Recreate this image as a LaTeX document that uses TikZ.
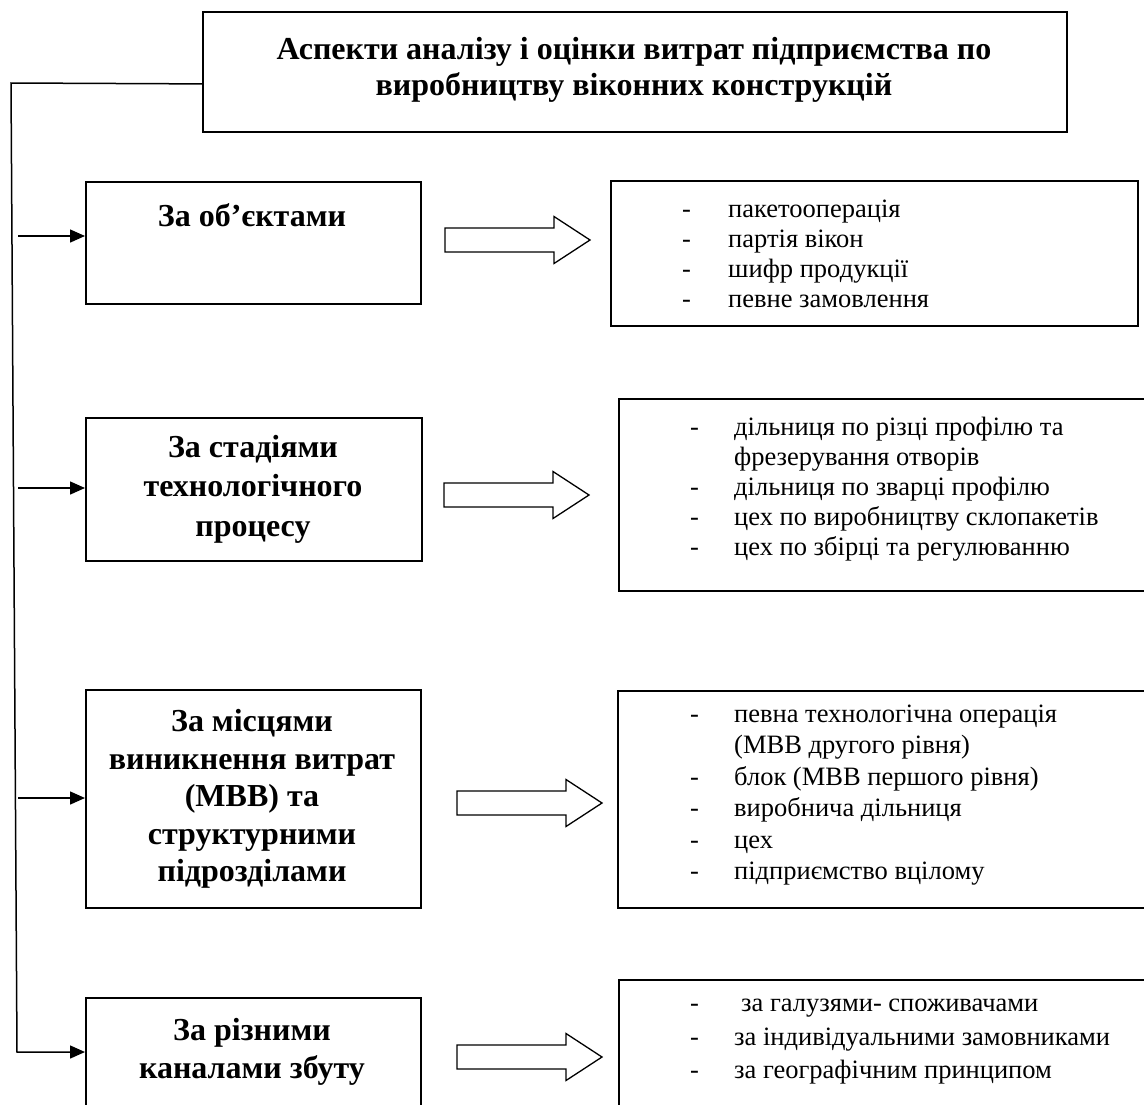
\documentclass[tikz,border=0pt]{standalone}
\usepackage{fontspec}
\setmainfont{Liberation Serif}
\usetikzlibrary{arrows.meta}
\newcommand{\blkarrow}[2]{%
  \draw[blk] (#1,#2-12) -- ++(109,0) -- ++(0,-11.5) -- ++(36,23.5) -- ++(-36,23.5) -- ++(0,-11.5) -- ++(-109,0) -- cycle;}
\newcommand{\dsh}[1]{\makebox[#1][l]{-}}
\begin{document}
\begin{tikzpicture}[x=1pt,y=-1pt,
  frame/.style={draw=black, line width=1.8pt, anchor=north west, inner sep=0pt},
  head/.style={font=\fontsize{32}{36}\selectfont\bfseries, align=center, inner sep=0pt},
  cat/.style={font=\fontsize{32}{38}\selectfont\bfseries, align=center, inner sep=0pt},
  items/.style={font=\fontsize{26.5}{30}\selectfont, align=left, anchor=west, inner sep=0pt},
  link/.style={line width=1.5pt, -{Triangle[length=15pt,width=13pt]}},
  blk/.style={draw=black, line width=1.3pt, fill=white}]
\useasboundingbox (0,0) rectangle (1144,1104);
\clip (0,0) rectangle (1144,1104);

% title
\node[frame, minimum width=864pt, minimum height=120pt] (top) at (202,11) {};
\node[head] (toptext) at (634,70) {Аспекти аналізу і оцінки витрат підприємства по\\виробництву віконних конструкцій};

% left category boxes
\node[frame, minimum width=335pt, minimum height=122pt] (b1) at (85,181) {};
\node[cat] (t1) at (252,215) {За об’єктами};
\node[frame, minimum width=336pt, minimum height=143pt] (b2) at (85,417) {};
\node[cat, font=\fontsize{32}{39.5}\selectfont\bfseries] (t2) at (253,489) {За стадіями\\технологічного\\процесу};
\node[frame, minimum width=335pt, minimum height=218pt] (b3) at (85,689) {};
\node[cat, font=\fontsize{32}{37.5}\selectfont\bfseries] (t3) at (252,799) {За місцями\\виникнення витрат\\(МВВ) та\\структурними\\підрозділами};
\node[frame, minimum width=335pt, minimum height=130pt] (b4) at (85,997) {};
\node[cat] (t4) at (252,1052) {За різними\\каналами збуту};

% right list boxes
\node[frame, minimum width=527pt, minimum height=145pt] (r1) at (610,180) {};
\node[items] (l1) at (682,254) {\dsh{46pt}пакетооперація\\\dsh{46pt}партія вікон\\\dsh{46pt}шифр продукції\\\dsh{46pt}певне замовлення};
\node[frame, minimum width=540pt, minimum height=192pt] (r2) at (618,398) {};
\node[items] (l2) at (690,489) {\dsh{44pt}дільниця по різці профілю та\\\hspace*{44pt}фрезерування отворів\\\dsh{44pt}дільниця по зварці профілю\\\dsh{44pt}цех по виробництву склопакетів\\\dsh{44pt}цех по збірці та регулюванню};
\node[frame, minimum width=540pt, minimum height=217pt] (r3) at (617,690) {};
\node[items, font=\fontsize{26.5}{31.5}\selectfont] (l3) at (690,795) {\dsh{44pt}певна технологічна операція\\\hspace*{44pt}(МВВ другого рівня)\\\dsh{44pt}блок (МВВ першого рівня)\\\dsh{44pt}виробнича дільниця\\\dsh{44pt}цех\\\dsh{44pt}підприємство вцілому};
\node[frame, minimum width=540pt, minimum height=140pt] (r4) at (618,979) {};
\node[items, font=\fontsize{26.5}{33.5}\selectfont] (l4) at (690,1042) {\dsh{44pt}\hspace*{7pt}за галузями- споживачами\\\dsh{44pt}за індивідуальними замовниками\\\dsh{44pt}за географічним принципом};

% block arrows
\blkarrow{445}{240}
\blkarrow{444}{495}
\blkarrow{457}{803}
\blkarrow{457}{1057}

% trunk and connectors
\coordinate (c0) at (11,83);
\coordinate (c1) at (17,1052);
\draw[link] ([yshift=-12pt]top.west) -- (c0) -- (c1) -- (c1 -| b4.west);
\coordinate (s1) at (18,236);
\coordinate (s2) at (18,488);
\coordinate (s3) at (18,798);
\draw[link] (s1) -- (s1 -| b1.west);
\draw[link] (s2) -- (s2 -| b2.west);
\draw[link] (s3) -- (s3 -| b3.west);
\end{tikzpicture}
\end{document}
